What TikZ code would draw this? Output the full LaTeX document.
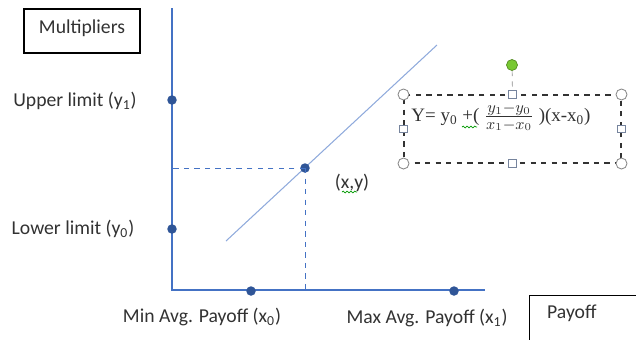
\documentclass[tikz,border=0pt]{standalone}
\usepackage{fontspec}
\setmainfont{Carlito}
\newfontfamily\eqfont{Liberation Serif}
\usetikzlibrary{positioning,decorations.pathmorphing}
\definecolor{axisblue}{RGB}{68,114,196}
\definecolor{lineblue}{RGB}{143,170,220}
\definecolor{dotblue}{RGB}{47,85,151}
\definecolor{txtgray}{RGB}{50,50,50}
\definecolor{handlegray}{RGB}{140,140,140}
\definecolor{rotgreen}{RGB}{120,200,50}
\tikzset{
  dotv/.style={circle,fill=dotblue,inner sep=0pt,minimum size=0.19cm},
  lbl/.style={font=\fontsize{11.2}{13}\selectfont,text=txtgray},
  axisline/.style={axisblue,line width=0.7pt},
  guide/.style={axisblue,dashed,line width=0.5pt},
  hcirc/.style={circle,draw=handlegray,fill=white,inner sep=0pt,minimum size=0.22cm,line width=0.5pt},
  hsq/.style={rectangle,draw=handlegray!70!axisblue,fill=white,inner sep=0pt,minimum size=0.15cm,line width=0.5pt},
  spell/.style={green!60!black,line width=0.4pt,decorate,decoration={snake,amplitude=0.5pt,segment length=2.2pt}}
}

\begin{document}
\begin{tikzpicture}[x=0.02cm,y=-0.02cm]
  \useasboundingbox (0,0) rectangle (636,339);

  % axes
  \coordinate (ytop) at (172,8);
  \coordinate (O) at (172,290);
  \coordinate (xend) at (485,290);
  \draw[axisline] (ytop) -- (O) -- (xend);

  % boxes for the axis names
  \node[draw=black,line width=0.6pt,minimum width=2.32cm,minimum height=0.88cm] (mult) at (82,31) {};
  \node[lbl] (multlbl) at (82,28) {Multipliers};
  \node[draw=black,line width=0.6pt,anchor=north west,minimum width=2.4cm,minimum height=1.2cm] (payoffbox) at (529,295) {};
  \node[lbl,anchor=west] (payoff) at (541,313) {Payoff};

  % limits on the axes
  \node[dotv] (y1) at (172,100) {};
  \node[dotv] (y0) at (172,229) {};
  \node[dotv] (x0) at (251,291) {};
  \node[dotv] (x1) at (454,291) {};
  \node[lbl] (y1lbl) at (75,101) {Upper limit (y\textsubscript{1})};
  \node[lbl] (y0lbl) at (73,229) {Lower limit (y\textsubscript{0})};
  \node[lbl] (x0lbl) at (202,317) {Min Avg. Payoff (x\textsubscript{0})};
  \node[lbl] (x1lbl) at (427,318) {Max Avg. Payoff (x\textsubscript{1})};

  % the line and the point on it
  \coordinate (lstart) at (226,241);
  \coordinate (lend) at (437,45);
  \draw[lineblue,line width=0.6pt] (lstart) -- (lend);
  \node[dotv] (P) at (305,168) {};
  \draw[guide] (P.center) -- (P.center -| O);
  \draw[guide] (P.center) -- (P.center |- O);
  \node[lbl] (Plbl) at (352,183) {(x,y)};
  \coordinate (sp1a) at (342,192);
  \coordinate (sp1b) at (357,192);
  \draw[spell] (sp1a) -- (sp1b);

  % formula box with its handles
  \node[draw=black!80,dashed,line width=0.6pt,minimum width=4.34cm,minimum height=1.36cm] (eqbox) at (512.5,129) {};
  \node[font=\eqfont\fontsize{10.8}{12}\selectfont,text=txtgray] (eq) at (501,117)
    {Y= y\textsubscript{0} +( {\fontsize{13}{14}\selectfont$\frac{y_1-y_0}{x_1-x_0}$} )(x-x\textsubscript{0})};
  \coordinate (sp2a) at (462,127);
  \coordinate (sp2b) at (477,127);
  \draw[spell] (sp2a) -- (sp2b);
  \node[circle,fill=rotgreen,draw=rotgreen!70!black,inner sep=0pt,minimum size=0.22cm] (rot) at (512,65) {};
  \draw[dashed,handlegray] (rot) -- (eqbox.north);
  \foreach \a/\n in {north west/nw,north east/ne,south west/sw,south east/se}
    \node[hcirc] (h\n) at (eqbox.\a) {};
  \foreach \a/\n in {north/n,south/s,east/e,west/w}
    \node[hsq] (h\n) at (eqbox.\a) {};
\end{tikzpicture}
\end{document}
